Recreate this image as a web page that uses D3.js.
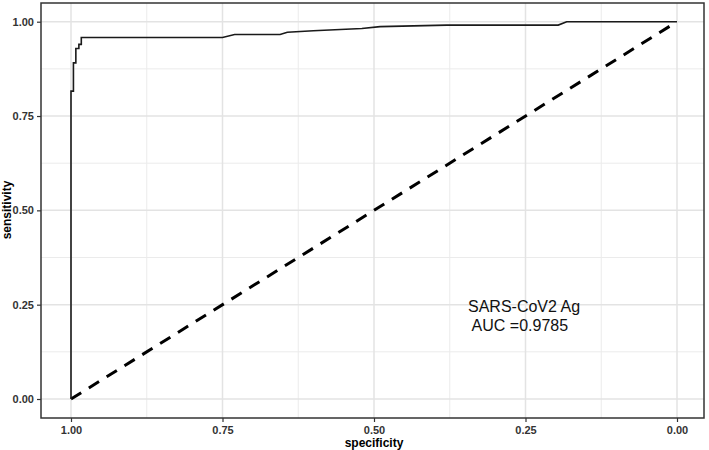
<!DOCTYPE html>
<html>
<head>
<meta charset="utf-8">
<script src="https://cdn.jsdelivr.net/npm/d3@7"></script>
<style>
  body { margin: 0; background: #fff; }
  text { font-family: "Liberation Sans", Arial, sans-serif; }
</style>
</head>
<body>
<svg id="canvas"></svg>
<script>
// ROC curve (specificity, sensitivity)
const specificity = [1.0, 1.0, 0.996, 0.996, 0.992, 0.992, 0.987, 0.987, 0.983, 0.983,
  0.75, 0.73, 0.655, 0.643, 0.60, 0.52, 0.49, 0.38, 0.196, 0.182, 0.0];
const sensitivity = [0.0, 0.816, 0.816, 0.891, 0.891, 0.929, 0.929, 0.94, 0.94, 0.958,
  0.958, 0.966, 0.966, 0.972, 0.976, 0.982, 0.987, 0.991, 0.991, 1.0, 1.0];
const chanceSpec = [1, 0];
const chanceSens = [0, 1];
const tickValues = [0, 0.25, 0.5, 0.75, 1];
const minorValues = [0.125, 0.375, 0.625, 0.875];
const labelLines = ["SARS-CoV2 Ag", " AUC =0.9785"];

const width = 709, height = 450;
const svg = d3.select('#canvas').attr('width', width).attr('height', height);

// panel box
const panel = { left: 41, right: 704, top: 3, bottom: 418 };

const x = d3.scaleLinear().domain([1, 0]).range([71, 677]);   // reversed specificity
const y = d3.scaleLinear().domain([0, 1]).range([399, 21.7]);

// grid
const grid = svg.append('g');
grid.selectAll('.minx').data(minorValues).enter().append('line')
  .attr('x1', d => x(d)).attr('x2', d => x(d))
  .attr('y1', panel.top).attr('y2', panel.bottom)
  .attr('stroke', '#ebebeb').attr('stroke-width', 1);
grid.selectAll('.miny').data(minorValues).enter().append('line')
  .attr('y1', d => y(d)).attr('y2', d => y(d))
  .attr('x1', panel.left).attr('x2', panel.right)
  .attr('stroke', '#ebebeb').attr('stroke-width', 1);
grid.selectAll('.majx').data(tickValues).enter().append('line')
  .attr('x1', d => x(d)).attr('x2', d => x(d))
  .attr('y1', panel.top).attr('y2', panel.bottom)
  .attr('stroke', '#e3e3e3').attr('stroke-width', 1.5);
grid.selectAll('.majy').data(tickValues).enter().append('line')
  .attr('y1', d => y(d)).attr('y2', d => y(d))
  .attr('x1', panel.left).attr('x2', panel.right)
  .attr('stroke', '#e3e3e3').attr('stroke-width', 1.5);

// chance diagonal
const diag = chanceSpec.map((s, i) => [s, chanceSens[i]]);
svg.append('path')
  .attr('d', d3.line().x(d => x(d[0])).y(d => y(d[1]))(diag))
  .attr('fill', 'none').attr('stroke', '#000')
  .attr('stroke-width', 3).attr('stroke-dasharray', '12,9');

// ROC curve
const roc = specificity.map((s, i) => [s, sensitivity[i]]);
svg.append('path')
  .attr('d', d3.line().x(d => x(d[0])).y(d => y(d[1]))(roc))
  .attr('fill', 'none').attr('stroke', '#1a1a1a').attr('stroke-width', 1.6);

// panel border
svg.append('rect')
  .attr('x', panel.left).attr('y', panel.top)
  .attr('width', panel.right - panel.left).attr('height', panel.bottom - panel.top)
  .attr('fill', 'none').attr('stroke', '#333').attr('stroke-width', 1.5);

// axes
const xAxis = d3.axisBottom(x).tickValues(tickValues).tickFormat(d3.format('.2f')).tickSize(4).tickPadding(4);
const yAxis = d3.axisLeft(y).tickValues(tickValues).tickFormat(d3.format('.2f')).tickSize(4).tickPadding(3);

const gx = svg.append('g').attr('transform', `translate(0,${panel.bottom})`).call(xAxis);
const gy = svg.append('g').attr('transform', `translate(${panel.left},0)`).call(yAxis);
[gx, gy].forEach(g => {
  g.select('.domain').remove();
  g.selectAll('.tick line').attr('stroke', '#333').attr('stroke-width', 1.2);
  g.selectAll('.tick text')
    .attr('fill', '#333')
    .style('font-size', '11px')
    .style('font-weight', 'bold')
    .style('font-family', '"Liberation Sans", Arial, sans-serif');
});

// axis titles
svg.append('text')
  .attr('x', 374).attr('y', 447)
  .attr('text-anchor', 'middle')
  .style('font-size', '12px').style('font-weight', 'bold')
  .text('specificity');
svg.append('text')
  .attr('transform', 'translate(11,210) rotate(-90)')
  .attr('text-anchor', 'middle')
  .style('font-size', '12px').style('font-weight', 'bold')
  .text('sensitivity');

// annotation
svg.append('g').selectAll('text').data(labelLines).enter().append('text')
  .attr('x', 468)
  .attr('y', (d, i) => 312 + i * 18.5)
  .attr('xml:space', 'preserve')
  .style('font-size', '16px')
  .attr('fill', '#111')
  .text(d => d);
</script>
</body>
</html>
